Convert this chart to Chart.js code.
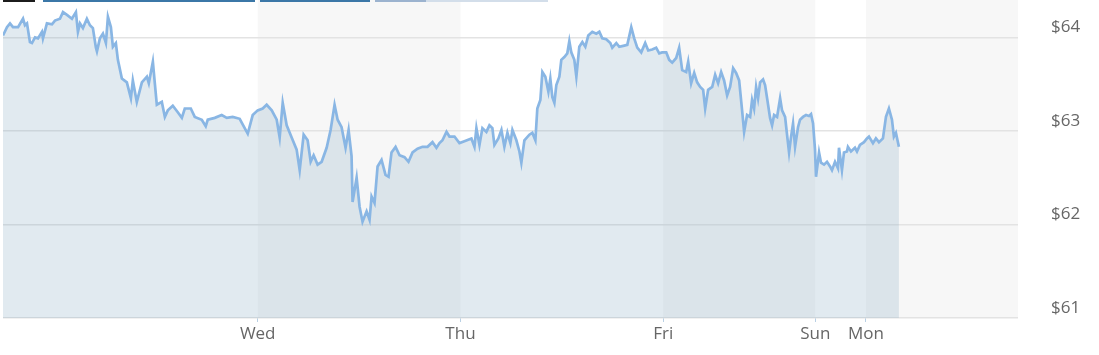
<!DOCTYPE html>
<html>
<head>
<meta charset="utf-8">
<script src="https://cdn.jsdelivr.net/npm/chart.js@4"></script>
<style>
  body { margin: 0; background: #fff; }
  #wrap { position: relative; width: 1099px; height: 355px; }
  .bar { position: absolute; top: 0; height: 2px; }
</style>
</head>
<body>
<div id="wrap">
  <canvas id="priceChart" width="1099" height="355"></canvas>
  <div class="bar" style="left:3px;width:32px;background:#1c1c1c"></div>
  <div class="bar" style="left:43px;width:212px;background:#3b77a7"></div>
  <div class="bar" style="left:260px;width:110px;background:#3b77a7"></div>
  <div class="bar" style="left:375px;width:51px;background:#9cb3cf"></div>
  <div class="bar" style="left:426px;width:122px;background:#d3deea"></div>
</div>
<script>
// trading hours, 0 = Tue 00:00 (Sun/Mon squeezed after Fri close)
const hours = [
  -6.15, -5.68, -5.32, -4.97, -4.37, -3.78, -3.55, -3.31, -2.96, -2.72, -2.36, -2.01, -1.54, -1.42, -0.95, -0.35,
  0, 0.59, 0.95, 1.42, 2.01, 2.48, 2.72, 2.96, 3.31, 3.78, 4.14, 4.49, 4.85, 4.97, 5.32, 5.68,
  6.03, 6.27, 6.62, 6.86, 7.21, 7.45, 7.92, 8.51, 8.99, 9.22, 9.69, 10.29, 10.88, 11.11, 11.59, 11.82,
  12.06, 12.65, 13.01, 13.36, 13.95, 14.54, 15.02, 15.37, 16.08, 16.55, 17.38, 17.85, 18.09, 18.92, 19.74, 20.34,
  21.04, 21.87, 22.46, 22.82, 23.41, 24.00, 24.59, 25.06, 25.66, 26.25, 26.60, 26.96, 27.43, 28.02, 28.61, 28.97,
  29.44, 29.91, 30.27, 30.62, 31.09, 31.57, 32.16, 32.63, 33.10, 33.46, 33.93, 34.40, 34.76, 35.11, 35.23, 35.71,
  36.06, 36.41, 36.89, 37.24, 37.48, 37.83, 38.19, 38.66, 39.13, 39.49, 39.84, 40.32, 40.79, 41.38, 41.85, 42.33,
  42.92, 43.51, 44.10, 44.69, 45.16, 45.52, 45.87, 46.35, 46.70, 47.29, 47.88, 48.47, 49.30, 49.66, 49.89, 50.25,
  50.60, 51.07, 51.43, 51.78, 52.02, 52.49, 52.85, 53.20, 53.56, 53.91, 54.15, 54.62, 54.98, 55.21, 55.57, 56.16,
  56.51, 56.87, 57.10, 57.46, 57.70, 58.05, 58.41, 58.64, 58.88, 59.12, 59.35, 59.71, 59.94, 60.30, 60.65, 60.89,
  61.12, 61.48, 61.72, 62.07, 62.43, 62.78, 63.13, 63.61, 64.08, 64.44, 64.79, 65.26, 65.74, 65.97, 66.45, 66.80,
  67.27, 67.75, 68.22, 68.57, 68.93, 69.40, 69.87, 70.23, 70.70, 71.17, 71.53, 71.88, 72.36, 72.71, 73.07, 73.54,
  73.89, 74.25, 74.72, 74.96, 75.31, 75.67, 76.02, 76.38, 76.73, 76.97, 77.32, 77.80, 78.15, 78.50, 78.86, 79.21,
  79.57, 79.92, 80.28, 80.63, 80.99, 81.34, 81.58, 81.93, 82.29, 82.52, 82.76, 83.00, 83.23, 83.47, 83.82, 84.06,
  84.30, 84.65, 84.89, 85.13, 85.48, 85.84, 86.07, 86.43, 86.66, 86.90, 87.14, 87.37, 87.61, 87.96, 88.20, 88.55,
  88.91, 89.26, 89.50, 89.74, 89.97, 90.09, 90.45, 90.68, 91.04, 91.39, 91.75, 91.98, 92.34, 92.69, 92.81, 93.16,
  93.40, 93.75, 93.87, 94.23, 94.70, 94.94, 95.29, 95.77, 96.12, 96.36, 96.83, 97.18, 97.54, 98.01, 98.37, 98.72,
  99.08, 99.31, 99.55, 99.90
];
const prices = [
  64.02, 64.11, 64.15, 64.11, 64.11, 64.20, 64.13, 64.15, 63.95, 63.94, 64.00, 63.99, 64.06, 63.99, 64.15, 64.14,
  64.18, 64.20, 64.27, 64.24, 64.20, 64.27, 64.06, 64.15, 64.10, 64.20, 64.13, 64.10, 63.89, 63.85, 63.99, 64.04,
  63.94, 64.22, 64.11, 63.90, 63.94, 63.76, 63.56, 63.52, 63.35, 63.54, 63.31, 63.52, 63.58, 63.51, 63.74, 63.51,
  63.28, 63.31, 63.15, 63.22, 63.27, 63.20, 63.14, 63.24, 63.24, 63.15, 63.12, 63.05, 63.12, 63.14, 63.17, 63.14,
  63.15, 63.13, 63.03, 62.97, 63.17, 63.22, 63.24, 63.28, 63.22, 63.12, 62.93, 63.30, 63.06, 62.93, 62.80, 62.58,
  62.96, 62.90, 62.67, 62.74, 62.64, 62.67, 62.82, 63.01, 63.28, 63.12, 63.04, 62.82, 63.01, 62.73, 62.24, 62.50,
  62.19, 62.03, 62.14, 62.05, 62.30, 62.23, 62.62, 62.69, 62.53, 62.51, 62.77, 62.83, 62.74, 62.72, 62.67, 62.77,
  62.81, 62.83, 62.83, 62.88, 62.82, 62.87, 62.90, 62.99, 62.94, 62.94, 62.87, 62.89, 62.92, 62.83, 63.03, 62.85,
  63.03, 62.99, 63.06, 63.03, 62.85, 62.92, 63.01, 62.83, 62.98, 62.87, 63.01, 62.90, 62.78, 62.66, 62.90, 62.96,
  62.98, 62.90, 63.24, 63.33, 63.63, 63.58, 63.42, 63.56, 63.36, 63.30, 63.49, 63.58, 63.76, 63.79, 63.83, 63.96,
  63.84, 63.76, 63.58, 63.90, 63.95, 63.90, 64.02, 64.06, 64.04, 64.06, 63.99, 63.98, 63.94, 63.89, 63.94, 63.90,
  63.91, 63.92, 64.11, 63.99, 63.89, 63.84, 63.94, 63.86, 63.87, 63.89, 63.83, 63.84, 63.84, 63.76, 63.73, 63.78,
  63.89, 63.65, 63.63, 63.74, 63.51, 63.62, 63.52, 63.47, 63.44, 63.24, 63.44, 63.47, 63.60, 63.51, 63.63, 63.54,
  63.38, 63.47, 63.67, 63.62, 63.54, 63.22, 62.99, 63.17, 63.15, 63.33, 63.24, 63.47, 63.35, 63.52, 63.55, 63.49,
  63.35, 63.14, 63.06, 63.17, 63.15, 63.35, 63.22, 63.15, 62.96, 62.77, 62.94, 63.08, 62.83, 63.04, 63.12, 63.15,
  63.17, 63.16, 63.18, 63.08, 62.80, 62.51, 62.77, 62.66, 62.64, 62.67, 62.62, 62.58, 62.67, 62.60, 62.82, 62.58,
  62.77, 62.78, 62.83, 62.78, 62.82, 62.78, 62.85, 62.88, 62.92, 62.94, 62.87, 62.92, 62.88, 62.92, 63.15, 63.24,
  63.12, 62.94, 62.98, 62.83
];
const dayTicks = [24, 48, 72, 90, 96];
const dayLabels = ['Wed', 'Thu', 'Fri', 'Sun', 'Mon'];
const priceTicks = [61, 62, 63, 64];
const shadedSpans = [[24, 48], [72, 90], [96, 114]];

const dayBands = {
    id: 'dayBands',
    beforeDraw(chart) {
        const { ctx, chartArea, scales } = chart;
        ctx.save();
        ctx.fillStyle = '#f7f7f7';
        shadedSpans.forEach(function (span) {
            const x1 = scales.x.getPixelForValue(span[0]);
            const x2 = scales.x.getPixelForValue(span[1]);
            ctx.fillRect(x1, chartArea.top, x2 - x1, chartArea.bottom - chartArea.top);
        });
        ctx.restore();
    }
};

Chart.defaults.font.family = '"Open Sans", sans-serif';

new Chart(document.getElementById('priceChart').getContext('2d'), {
    type: 'line',
    data: {
        datasets: [{
            data: hours.map((h, i) => ({ x: h, y: prices[i] })),
            borderColor: 'rgb(137, 182, 228)',
            borderWidth: 2.7,
            backgroundColor: 'rgba(135, 171, 195, 0.25)',
            fill: 'start',
            pointRadius: 0,
            tension: 0
        }]
    },
    options: {
        responsive: false,
        animation: false,
        layout: { padding: { left: 3, top: 0, right: 0, bottom: 0 } },
        plugins: {
            legend: { display: false },
            tooltip: { enabled: false }
        },
        scales: {
            x: {
                type: 'linear',
                min: -6.15,
                max: 114,
                afterBuildTicks: s => { s.ticks = dayTicks.map(v => ({ value: v })); },
                afterFit: s => { s.height = 37; s.paddingLeft = 0; s.paddingRight = 0; },
                ticks: {
                    autoSkip: false,
                    maxRotation: 0,
                    padding: 2,
                    color: '#666',
                    font: { size: 17 },
                    callback: v => dayLabels[dayTicks.indexOf(v)]
                },
                grid: { drawOnChartArea: false, drawTicks: true, tickLength: 4, tickColor: '#b9d0e4' },
                border: { display: false }
            },
            y: {
                position: 'right',
                min: 61,
                max: 64.4,
                afterBuildTicks: s => { s.ticks = priceTicks.map(v => ({ value: v })); },
                afterFit: s => { s.width = 81; s.paddingTop = 0; s.paddingBottom = 0; },
                ticks: {
                    padding: 33,
                    labelOffset: -10,
                    color: '#666',
                    font: { size: 17 },
                    callback: v => '$' + v
                },
                grid: { color: '#e3e3e3', lineWidth: 1.5, drawTicks: false },
                border: { display: false }
            }
        }
    },
    plugins: [dayBands]
});
</script>
</body>
</html>
